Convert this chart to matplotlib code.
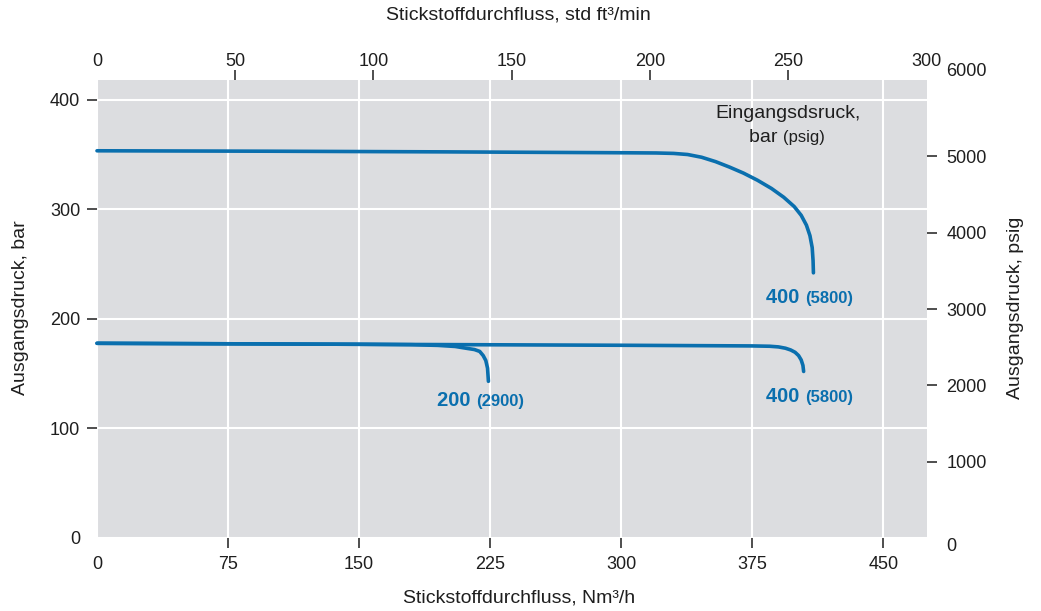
import matplotlib
matplotlib.use("Agg")
import matplotlib.pyplot as plt

# Outlet pressure (bar) versus nitrogen flow (Nm3/h) for each inlet pressure
flow_400_high = [0, 50, 100, 150, 200, 250, 300, 320, 330, 338, 346, 354, 362, 370,
                 378, 386, 393, 399, 403, 406, 408, 409.3, 409.8, 410]
outlet_400_high = [353.4, 353.2, 353.0, 352.7, 352.4, 352.0, 351.6, 351.4, 351.0, 350.0,
                   347.5, 343.5, 338.5, 333.0, 326.5, 319.0, 311.0, 302.5, 294.5, 285.5,
                   276.0, 265.0, 253.0, 242.0]

flow_400_low = [0, 50, 100, 150, 200, 250, 300, 350, 375, 385, 390, 394, 397, 399.5,
                401.5, 403, 404, 404.4]
outlet_400_low = [177.7, 177.4, 177.1, 176.8, 176.5, 176.2, 175.9, 175.5, 175.3, 175.0,
                  174.4, 173.2, 171.6, 169.5, 166.5, 162.5, 157.5, 152.0]

flow_200 = [0, 50, 100, 150, 180, 195, 205, 212, 216, 219, 221, 222.5, 223.5, 224]
outlet_200 = [177.7, 177.4, 177.1, 176.8, 176.4, 175.8, 174.8, 173.0, 172.0, 170.3,
              166.5, 162.0, 155.0, 143.0]

x_ticks = [0, 75, 150, 225, 300, 375, 450]
y_ticks = [0, 100, 200, 300, 400]
top_ticks = [0, 50, 100, 150, 200, 250, 300]
right_ticks = [0, 1000, 2000, 3000, 4000, 5000, 6000]

X_MAX = 475.0
Y_MAX = 418.0
NM3H_TO_SCFM = 0.632
BAR_TO_AXIS_PSIG = 6000.0 / Y_MAX

BLUE = "#0a6fae"
TEXT = "#1e1e1e"
BG = "#dcdde0"
W, H = 1041, 611

plt.rcParams["font.family"] = ["Liberation Sans", "DejaVu Sans"]
plt.rcParams["font.size"] = 13

fig = plt.figure(figsize=(W / 100, H / 100), dpi=100)
ax = fig.add_axes([97 / W, 1 - 538 / H, 830 / W, 458 / H])
ax.set_facecolor(BG)
for s in ax.spines.values():
    s.set_visible(False)

ax.set_xlim(0, X_MAX)
ax.set_ylim(0, Y_MAX)
ax.set_xticks(x_ticks)
ax.set_yticks(y_ticks)
ax.grid(True, color="white", linewidth=1.5)
ax.set_axisbelow(True)
ax.tick_params(axis="both", colors=TEXT, labelcolor=TEXT, labelsize=13,
               length=7, width=1.1)
ax.tick_params(axis="x", pad=6)
ax.tick_params(axis="y", pad=5)

for fx, fy in [(flow_400_high, outlet_400_high),
               (flow_400_low, outlet_400_low),
               (flow_200, outlet_200)]:
    ax.plot(fx, fy, color=BLUE, linewidth=2.6, solid_capstyle="round",
            solid_joinstyle="round", clip_on=False, zorder=3)

# Secondary scales: std ft3/min on top, psig on the right
top = ax.secondary_xaxis("top", functions=(lambda v: v * NM3H_TO_SCFM,
                                           lambda v: v / NM3H_TO_SCFM))
top.set_xticks(top_ticks)
top.tick_params(colors=TEXT, labelcolor=TEXT, labelsize=13, length=7, width=1.1, pad=0.5)
right = ax.secondary_yaxis("right", functions=(lambda v: v * BAR_TO_AXIS_PSIG,
                                               lambda v: v / BAR_TO_AXIS_PSIG))
right.set_yticks(right_ticks)
right.tick_params(colors=TEXT, labelcolor=TEXT, labelsize=13, length=7, width=1.1, pad=7)
for sec in (top, right):
    for s in sec.spines.values():
        s.set_visible(False)


def hide_tick_marks(axis, indices):
    ticks = axis.get_major_ticks()
    for i in indices:
        ticks[i].tick1line.set_visible(False)
        ticks[i].tick2line.set_visible(False)


hide_tick_marks(ax.xaxis, [0])
hide_tick_marks(ax.yaxis, [0])
hide_tick_marks(top.xaxis, [0, len(top_ticks) - 1])
hide_tick_marks(right.yaxis, [0, len(right_ticks) - 1])
rt = right.yaxis.get_major_ticks()
rt[0].label2.set_va("top")
rt[-1].label2.set_va("bottom")

# Axis titles
label_kw = dict(color=TEXT, fontsize=14, ha="center", va="center")
fig.text(519 / W, 1 - 598 / H, "Stickstoffdurchfluss, Nm³/h", **label_kw)
fig.text(518 / W, 1 - 15 / H, "Stickstoffdurchfluss, std ft³/min", **label_kw)
fig.text(21 / W, 1 - 308 / H, "Ausgangsdruck, bar", rotation=90, **label_kw)
fig.text(1016 / W, 1 - 308 / H, "Ausgangsdruck, psig", rotation=90, **label_kw)

# Inlet pressure legend and curve labels
ax.text(395.4, 383.3, "Eingangsdsruck,", color=TEXT, fontsize=14,
        ha="center", va="baseline")
ax.text(392.6, 361.7, "bar ", color=TEXT, fontsize=14, ha="right", va="baseline")
ax.text(392.6, 361.7, "(psig)", color=TEXT, fontsize=12, ha="left", va="baseline")

curve_labels = [(405.2, 214.5, "400", "(5800)"),
                (405.2, 124.4, "400", "(5800)"),
                (216.9, 120.5, "200", "(2900)")]
for lx, ly, bar_txt, psi_txt in curve_labels:
    ax.text(lx, ly, bar_txt + " ", color=BLUE, fontsize=14.5, fontweight="bold",
            ha="right", va="baseline")
    ax.text(lx, ly, psi_txt, color=BLUE, fontsize=12, fontweight="bold",
            ha="left", va="baseline")

fig.savefig("out.png", dpi=100)
